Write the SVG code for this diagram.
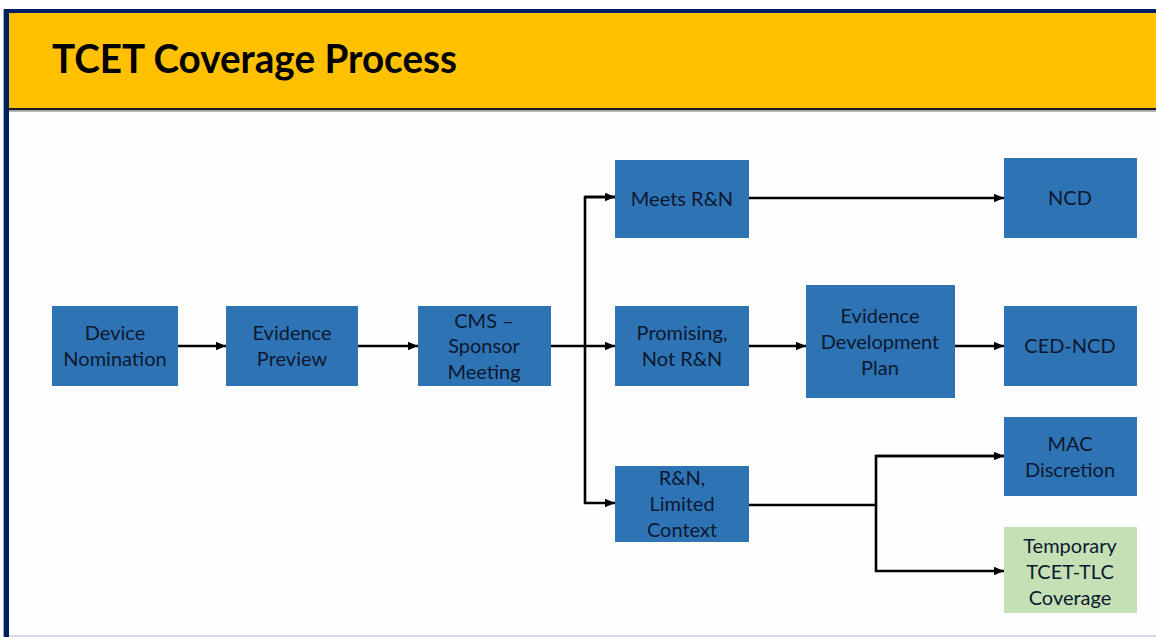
<svg xmlns="http://www.w3.org/2000/svg" width="1156" height="637" viewBox="0 0 1156 637">
<defs>
<style>
.box{fill:#2E74B5;}
.green{fill:#C5E0B4;}
.t{font-family:Lato,"Open Sans","Liberation Sans",sans-serif;font-size:20px;fill:#0D1830;text-anchor:middle;}
.c{fill:none;stroke:#000;stroke-width:2.6;}
</style>
<marker id="ah" viewBox="0 0 10 10" refX="10" refY="5" markerWidth="4" markerHeight="3.4" markerUnits="strokeWidth" orient="auto" preserveAspectRatio="none">
<path d="M0,0 L10,5 L0,10 z" fill="#000"/>
</marker>
</defs>
<rect x="0" y="0" width="1156" height="637" fill="#FFFFFF"/>
<rect x="3" y="9" width="1153" height="627" fill="#FEFEFE"/>
<rect x="9" y="13" width="1147" height="95" fill="#FFC000"/>
<rect x="9" y="108" width="1147" height="2.5" fill="#1A1A1A"/>
<rect x="9" y="110.5" width="1147" height="1.5" fill="#B8B8B8"/>
<rect x="4" y="9" width="1152" height="4" fill="#002060"/>
<rect x="4" y="9" width="5" height="628" fill="#002060"/>
<rect x="3" y="9" width="1" height="628" fill="#9DAAC8"/>
<rect x="9" y="635" width="1147" height="2" fill="#D5DCE8"/>
<text x="52" y="73" font-family="Lato,'Open Sans','Liberation Sans',sans-serif" font-weight="bold" font-size="40" fill="#000" textLength="405" lengthAdjust="spacingAndGlyphs">TCET Coverage Process</text>

<g id="connectors">
<line class="c" x1="178" y1="346" x2="226" y2="346" marker-end="url(#ah)"/>
<line class="c" x1="358" y1="346" x2="418" y2="346" marker-end="url(#ah)"/>
<line class="c" x1="551" y1="346" x2="615" y2="346" marker-end="url(#ah)"/>
<polyline class="c" points="615,197 585,197 585,503 615,503" marker-end="url(#ah)"/>
<polyline class="c" points="585,197 615,197" marker-end="url(#ah)"/>
<line class="c" x1="749" y1="198" x2="1004" y2="198" marker-end="url(#ah)"/>
<line class="c" x1="749" y1="346" x2="806" y2="346" marker-end="url(#ah)"/>
<line class="c" x1="955" y1="346" x2="1004" y2="346" marker-end="url(#ah)"/>
<line class="c" x1="749" y1="505" x2="876" y2="505"/>
<polyline class="c" points="1004,456 876,456 876,571 1004,571" marker-end="url(#ah)"/>
<polyline class="c" points="876,456 1004,456" marker-end="url(#ah)"/>
</g>

<g id="device-nomination">
<rect class="box" x="52" y="306" width="126" height="80"/>
<text class="t" x="115" y="340">Device</text>
<text class="t" x="115" y="366">Nomination</text>
</g>
<g id="evidence-preview">
<rect class="box" x="226" y="306" width="132" height="80"/>
<text class="t" x="292" y="340">Evidence</text>
<text class="t" x="292" y="366">Preview</text>
</g>
<g id="cms-sponsor-meeting">
<rect class="box" x="418" y="306" width="133" height="80"/>
<text class="t" x="484" y="328">CMS –</text>
<text class="t" x="484" y="353">Sponsor</text>
<text class="t" x="484" y="379">Meeting</text>
</g>
<g id="meets-rn">
<rect class="box" x="615" y="160" width="134" height="78"/>
<text class="t" x="682" y="206">Meets R&amp;N</text>
</g>
<g id="ncd">
<rect class="box" x="1004" y="158" width="133" height="80"/>
<text class="t" x="1070" y="205">NCD</text>
</g>
<g id="promising">
<rect class="box" x="615" y="306" width="134" height="80"/>
<text class="t" x="682" y="340">Promising,</text>
<text class="t" x="682" y="366">Not R&amp;N</text>
</g>
<g id="evidence-development-plan">
<rect class="box" x="806" y="285" width="149" height="113"/>
<text class="t" x="880" y="323">Evidence</text>
<text class="t" x="880" y="349">Development</text>
<text class="t" x="880" y="375">Plan</text>
</g>
<g id="ced-ncd">
<rect class="box" x="1004" y="306" width="133" height="80"/>
<text class="t" x="1070" y="353">CED-NCD</text>
</g>
<g id="rn-limited-context">
<rect class="box" x="615" y="466" width="134" height="76"/>
<text class="t" x="682" y="485">R&amp;N,</text>
<text class="t" x="682" y="511">Limited</text>
<text class="t" x="682" y="537">Context</text>
</g>
<g id="mac-discretion">
<rect class="box" x="1004" y="417" width="133" height="79"/>
<text class="t" x="1070" y="451">MAC</text>
<text class="t" x="1070" y="477">Discretion</text>
</g>
<g id="temporary-tcet-tlc">
<rect class="green" x="1004" y="527" width="133" height="86"/>
<text class="t" x="1070" y="553">Temporary</text>
<text class="t" x="1070" y="579">TCET-TLC</text>
<text class="t" x="1070" y="605">Coverage</text>
</g>
</svg>
